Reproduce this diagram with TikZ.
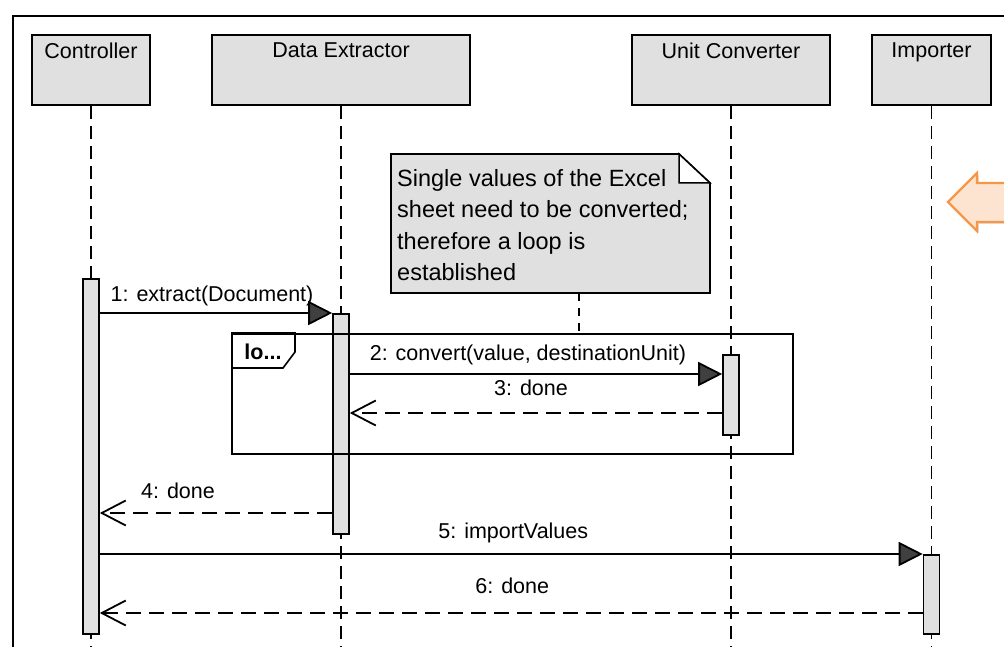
\documentclass[tikz,border=0pt]{standalone}
\usepackage{fontspec}
\setmainfont{Liberation Sans}
\usetikzlibrary{arrows.meta}
\usetikzlibrary{shadows}
\definecolor{boxgray}{HTML}{E0E0E0}
\definecolor{headgray}{HTML}{404040}
\definecolor{hintline}{HTML}{F79646}
\definecolor{hintfill}{HTML}{FDE4D0}
\newcommand{\msgfont}{\fontsize{21.5}{26}\selectfont}
\newcommand{\notefont}{\fontsize{23.5}{31.5}\selectfont}

\begin{document}
\begin{tikzpicture}[x=1pt, y=-1pt,
  object/.style={draw, fill=boxgray, line width=2pt, anchor=north west, minimum height=70pt, inner sep=0pt},
  objname/.style={anchor=north, inner sep=0pt, yshift=-9pt, font=\msgfont},
  lifeline/.style={line width=1.8pt, dash pattern=on 13pt off 7pt},
  activation/.style={draw, fill=boxgray, line width=1.6pt, anchor=north, minimum width=16pt, inner sep=0pt},
  call/.style={line width=1.8pt, -{Triangle[length=24pt, width=24pt, fill=headgray]}},
  reply/.style={line width=1.8pt, dash pattern=on 15pt off 8pt, -{Straight Barb[length=24pt, width=25pt]}},
  msglabel/.style={midway, anchor=base, inner sep=0pt, font=\msgfont}]
\useasboundingbox (0,0) rectangle (1004,647);
\clip (0,0) rectangle (1004,647);

% frame of the diagram
\draw[line width=2.6pt] (13,665) -- (13,16) -- (1015,16);

% objects and their lifelines
\node[object, minimum width=118pt, label={[objname]north:Controller}] (ctrl) at (31,34) {};
\node[object, minimum width=258pt, label={[objname]north:Data Extractor}] (extr) at (211,34) {};
\node[object, minimum width=198pt, label={[objname]north:Unit Converter}] (conv) at (631,34) {};
\node[object, minimum width=119pt, label={[objname]north:Importer}] (imp) at (871,34) {};
\coordinate (end) at (0,665);
\draw[lifeline] (ctrl.south) -- (ctrl.south |- end);
\draw[lifeline] (extr.south) -- (extr.south |- end);
\draw[lifeline] (conv.south) -- (conv.south |- end);
\draw[lifeline] (imp.south) -- (imp.south |- end);

% comment
\filldraw[fill=boxgray, line width=1.8pt] (391,154) -- (679,154) -- (710,183) -- (710,293) -- (391,293) -- cycle;
\filldraw[fill=white, line width=1.5pt] (679,154) -- (679,183) -- (710,183) -- cycle;
\node[anchor=north west, align=left, inner sep=0pt, font=\notefont] (note) at (397,169)
  {Single values of the Excel\\sheet need to be converted;\\therefore a loop is\\established};
\coordinate (notefoot) at (579,293);

% activations
\node[activation, minimum height=355pt] (ctrlbar) at (ctrl.south |- 0,278) {};
\node[activation, minimum height=220pt] (extrbar) at (extr.south |- 0,313) {};
\node[activation, minimum height=80pt] (convbar) at (conv.south |- 0,354) {};
\node[activation, minimum height=79pt] (impbar) at (imp.south |- 0,554) {};

% loop fragment
\node[draw, line width=1.8pt, anchor=north west, minimum width=561pt, minimum height=120pt, inner sep=0pt] (loop) at (231,333) {};
\draw[line width=1.6pt] (loop.north west) -- ++(64,0) -- ++(0,19) -- ++(-12,16) -- ++(-52,0);
\node[font=\msgfont\bfseries] (looptag) at (263,352) {lo...};
\draw[line width=1.6pt, dash pattern=on 8pt off 7pt] (notefoot) -- (notefoot |- loop.north);

% messages
\coordinate (m2) at (0,374);
\coordinate (m3) at (0,413);
\coordinate (m4) at (0,513);
\coordinate (m6) at (0,613);
\draw[call] (ctrlbar.east |- extrbar.north) -- (extrbar.north west)
  node[msglabel, xshift=-4pt, yshift=12pt] {1: extract(Document)};
\draw[call] (extrbar.east |- m2) -- (convbar.west |- m2)
  node[msglabel, xshift=-8pt, yshift=14pt] {2: convert(value, destinationUnit)};
\draw[reply] (convbar.west |- m3) -- (extrbar.east |- m3)
  node[msglabel, xshift=-5pt, yshift=18pt] {3: done};
\draw[reply] (extrbar.west |- m4) -- (ctrlbar.east |- m4)
  node[msglabel, xshift=-38pt, yshift=15pt] {4: done};
\draw[call] (ctrlbar.east |- impbar.north) -- (impbar.north west)
  node[msglabel, xshift=2pt, yshift=16pt] {5: importValues};
\draw[reply] (impbar.west |- m6) -- (ctrlbar.east |- m6)
  node[msglabel, xshift=1pt, yshift=20pt] {6: done};

% pointer at the right border
\filldraw[draw=hintline, fill=hintfill, line width=2.2pt, drop shadow={shadow xshift=2pt, shadow yshift=-2pt, opacity=0.25}]
  (948,202) -- (977,173) -- (977,183) -- (1015,183) -- (1015,222) -- (977,222) -- (977,231) -- cycle;
\end{tikzpicture}
\end{document}
